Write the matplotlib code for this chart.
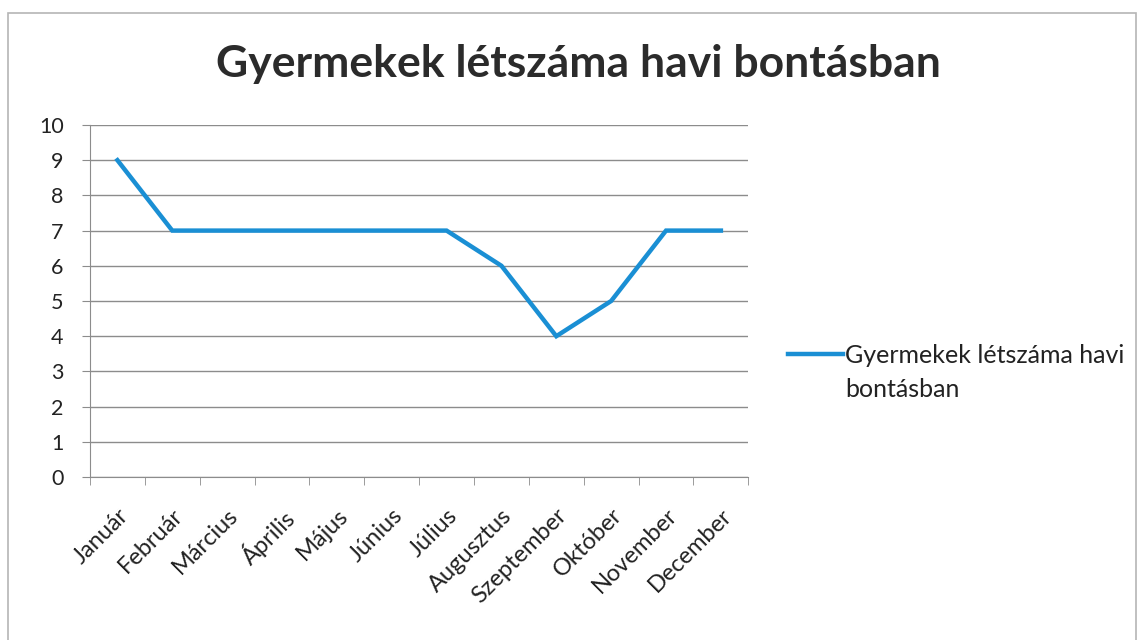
import matplotlib
matplotlib.use("Agg")
import matplotlib.pyplot as plt
from matplotlib.patches import Rectangle
from matplotlib.lines import Line2D

plt.rcParams['font.family'] = ['Lato', 'DejaVu Sans']

months = ['Január', 'Február', 'Március', 'Április', 'Május', 'Június',
          'Július', 'Augusztus', 'Szeptember', 'Október', 'November', 'December']
children = [9, 7, 7, 7, 7, 7, 7, 6, 4, 5, 7, 7]
series_name = 'Gyermekek létszáma havi\nbontásban'
title = 'Gyermekek létszáma havi bontásban'

line_color = '#1a8fd4'
grid_color = '#8c8c8c'
text_color = '#222222'

fig = plt.figure(figsize=(11.39, 6.4), dpi=100)
# outer chart frame
fig.patches.append(Rectangle((0.007, -0.01), 0.99, 0.99, transform=fig.transFigure,
                             fill=False, edgecolor='#b5b5b5', lw=1.2))

ax = fig.add_axes([0.079, 0.2547, 0.578, 0.55])
x = list(range(len(months)))
ax.plot(x, children, color=line_color, lw=3.2, solid_joinstyle='miter')

ax.set_xlim(-0.5, len(months) - 0.5)
ax.set_ylim(0, 10)
ax.set_yticks(range(0, 11))
ax.yaxis.grid(True, color=grid_color, lw=1)
ax.set_axisbelow(True)
for s in ['top', 'right']:
    ax.spines[s].set_visible(False)
for s in ['left', 'bottom']:
    ax.spines[s].set_color(grid_color)

ax.set_xticks(x)
ax.set_xticklabels(months, rotation=45, ha='right', rotation_mode='anchor',
                   fontsize=17, color=text_color)
ax.tick_params(axis='x', which='major', length=0, pad=20)
ax.set_xticks([i - 0.5 for i in range(len(months) + 1)], minor=True)
ax.tick_params(axis='x', which='minor', length=6, color=grid_color)
ax.tick_params(axis='y', length=6, color=grid_color, labelsize=15.5,
               labelcolor=text_color, pad=13)

fig.text(0.508, 0.9, title, ha='center', va='center', fontsize=32,
         fontweight='bold', color='#2b2b2b')

# legend entry (line sample next to first text line, like the original)
fig.add_artist(Line2D([0.692, 0.740], [0.447, 0.447], transform=fig.transFigure,
                      color=line_color, lw=3.2))
fig.text(0.742, 0.463, series_name, ha='left', va='top', fontsize=18,
         color=text_color, linespacing=1.62)

fig.savefig('out.png', dpi=100)
